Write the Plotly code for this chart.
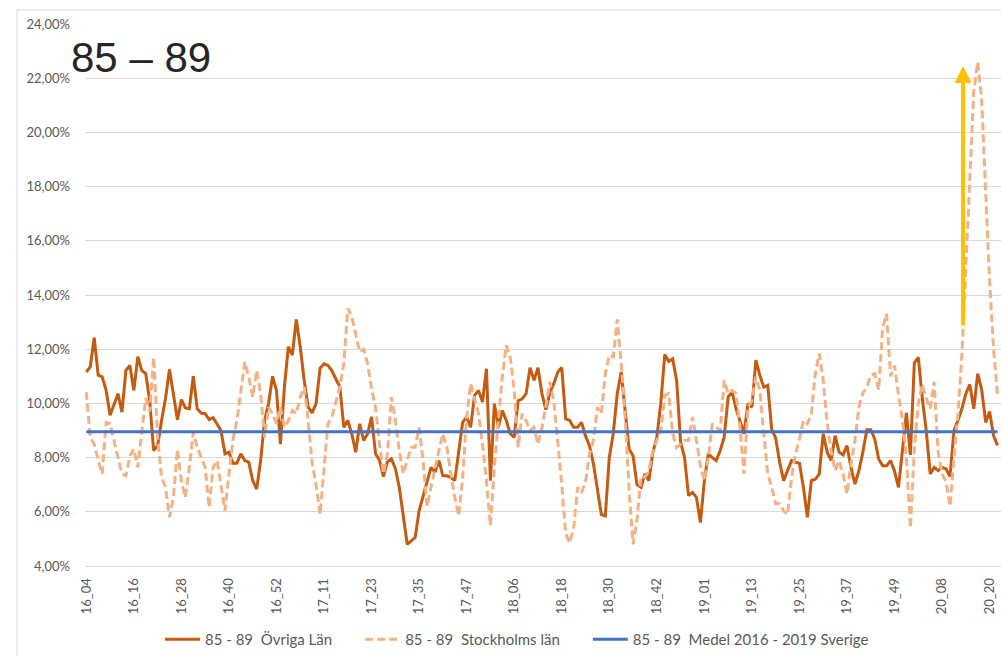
import plotly.graph_objects as go

# ---------------- data ----------------
TICK_LABELS = ["16_04", "16_16", "16_28", "16_40", "16_52", "17_11", "17_23", "17_35",
               "17_47", "18_06", "18_18", "18_30", "18_42", "19_01", "19_13", "19_25",
               "19_37", "19_49", "20_08", "20_20"]

OVRIGA = [
    11.16, 11.35, 12.43, 11.04, 10.98, 10.48, 9.56, 9.93, 10.36, 9.68,
    11.22, 11.40, 10.48, 11.72, 11.22, 11.10, 10.10, 8.26, 8.44, 9.37,
    10.20, 11.25, 10.36, 9.40, 10.14, 9.83, 9.80, 11.00, 9.80, 9.64,
    9.62, 9.40, 9.47, 9.25, 9.00, 8.14, 8.20, 7.79, 7.79, 8.14,
    7.89, 7.83, 7.15, 6.84, 7.89, 9.37, 9.99, 11.00, 10.48, 8.50,
    10.60, 12.09, 11.78, 13.10, 12.09, 10.85, 9.86, 9.65, 10.00, 11.30,
    11.46, 11.40, 11.20, 10.90, 10.60, 9.12, 9.37, 8.88, 8.20, 9.25,
    8.63, 8.88, 9.50, 8.14, 7.90, 7.30, 7.84, 7.95, 7.60, 6.90,
    5.90, 4.80, 4.93, 5.05, 6.04, 6.53, 7.10, 7.64, 7.46, 7.89,
    7.33, 7.33, 7.27, 7.15, 8.14, 9.30, 9.50, 9.12, 10.30, 10.48,
    10.05, 11.28, 7.15, 9.99, 9.12, 9.74, 9.37, 8.88, 8.75, 10.10,
    10.17, 10.36, 11.32, 10.85, 11.32, 10.36, 9.77, 10.40, 10.73, 11.16,
    11.32, 9.43, 9.37, 9.12, 9.12, 9.30, 8.80, 8.44, 7.77, 6.90,
    5.90, 5.85, 8.00, 8.88, 10.36, 11.16, 9.62, 8.32, 8.07, 7.00,
    6.90, 7.40, 7.15, 8.20, 8.75, 10.00, 11.80, 11.55, 11.65, 10.85,
    8.57, 8.00, 6.60, 6.72, 6.53, 5.60, 7.15, 8.14, 8.00, 7.89,
    8.26, 8.75, 10.23, 10.42, 9.80, 9.30, 8.88, 9.99, 9.86, 11.60,
    11.04, 10.60, 10.67, 9.03, 8.72, 7.83, 7.15, 7.52, 7.89, 7.83,
    7.79, 6.90, 5.80, 7.15, 7.20, 7.40, 8.88, 8.20, 7.89, 8.81,
    8.20, 8.10, 8.44, 7.64, 7.02, 7.52, 8.20, 9.03, 9.03, 8.69,
    7.95, 7.70, 7.70, 7.89, 7.50, 6.90, 8.30, 9.65, 8.10, 11.50,
    11.70, 10.20, 9.00, 7.40, 7.64, 7.52, 7.64, 7.58, 7.30, 9.00,
    9.37, 9.80, 10.36, 10.70, 9.80, 11.10, 10.50, 9.30, 9.70, 8.80,
    8.45,
]

STOCKHOLM = [
    10.42, 8.75, 8.50, 7.89, 7.40, 9.30, 9.25, 8.57, 8.00, 7.40,
    7.33, 8.07, 8.32, 7.64, 9.00, 10.20, 9.70, 11.70, 8.75, 7.27,
    6.90, 5.80, 6.55, 8.30, 7.15, 6.53, 7.64, 8.94, 8.38, 8.00,
    7.64, 6.16, 7.64, 7.89, 7.00, 6.04, 7.40, 8.63, 9.37, 10.36,
    11.53, 10.98, 10.23, 11.22, 10.36, 8.75, 9.86, 9.62, 9.25, 9.86,
    9.12, 9.37, 9.74, 9.62, 10.23, 10.60, 9.37, 7.80, 7.00, 5.90,
    7.64, 9.25, 9.50, 10.10, 10.60, 11.47, 13.50, 13.20, 12.52, 11.90,
    12.00, 11.47, 10.54, 9.86, 8.50, 7.40, 8.14, 10.23, 9.37, 8.26,
    7.40, 7.89, 8.38, 8.38, 9.12, 7.89, 6.20, 6.90, 7.64, 8.26,
    8.88, 8.38, 7.40, 6.53, 5.85, 7.27, 9.50, 10.73, 10.17, 9.62,
    8.50, 7.15, 5.48, 7.64, 9.37, 10.98, 12.15, 11.70, 10.48, 8.38,
    9.62, 9.37, 9.00, 9.12, 8.50, 9.10, 9.90, 10.80, 10.10, 8.63,
    7.02, 5.20, 4.85, 5.40, 6.90, 6.70, 7.10, 8.14, 8.63, 9.86,
    9.62, 11.10, 11.78, 11.72, 13.10, 11.50, 9.50, 6.80, 4.80, 5.70,
    7.30, 7.27, 7.52, 8.26, 8.60, 9.00, 10.30, 10.36, 8.88, 8.38,
    8.50, 8.63, 8.63, 9.50, 8.63, 7.70, 7.15, 8.00, 9.25, 9.12,
    9.00, 10.85, 10.36, 10.48, 10.36, 9.10, 7.40, 9.86, 10.10, 10.98,
    10.48, 8.88, 7.40, 6.90, 6.30, 6.30, 6.04, 5.90, 7.27, 8.14,
    8.69, 9.37, 9.25, 9.62, 11.10, 11.84, 10.85, 9.25, 8.26, 7.52,
    7.89, 7.40, 6.65, 7.77, 8.63, 9.86, 10.38, 10.60, 11.04, 11.10,
    10.50, 12.80, 13.30, 11.00, 11.40, 10.30, 9.40, 8.00, 5.40, 8.30,
    10.00, 10.70, 10.20, 9.80, 10.80, 8.20, 7.40, 7.10, 6.20, 8.00,
    9.60, 11.80, 15.00, 18.50, 21.50, 22.60, 21.20, 17.80, 14.50, 12.00,
    10.30,
]

MEDEL_2016_2019 = 8.95

# week categories: 53 weeks per year, starting at 16_04
START_YEAR, START_WEEK, WEEKS_PER_YEAR = 16, 4, 53
WEEKS = []
y, w = START_YEAR, START_WEEK
for _ in range(len(OVRIGA)):
    WEEKS.append(f"{y:02d}_{w:02d}")
    w += 1
    if w > WEEKS_PER_YEAR:
        w = 1
        y += 1

NB = "\u00a0"
SERIES_NAMES = ["85 - 89" + NB * 2 + "Övriga Län" + NB * 6,
                "85 - 89" + NB * 2 + "Stockholms län" + NB * 6,
                "85 - 89" + NB * 2 + "Medel 2016 - 2019 Sverige"]
TITLE = "85 – 89"

# ---------------- figure ----------------
FONT = "Lato, 'Liberation Sans', sans-serif"
GRID = "#D9D9D9"
TXT = "#595959"

fig = go.Figure()
fig.add_trace(go.Scatter(x=WEEKS, y=OVRIGA, mode="lines", name=SERIES_NAMES[0],
                         line=dict(color="#C55A11", width=3)))
fig.add_trace(go.Scatter(x=WEEKS, y=STOCKHOLM, mode="lines", name=SERIES_NAMES[1],
                         line=dict(color="#F4B183", width=3, dash="8px,4px")))
fig.add_trace(go.Scatter(x=WEEKS, y=[MEDEL_2016_2019] * len(WEEKS), mode="lines",
                         name=SERIES_NAMES[2], line=dict(color="#4472C4", width=3)))

# arrow (annotation)
ARROW_X = 221.3
ARROW_HEAD_Y = 22.45
ARROW_TAIL_Y = 12.82
fig.add_annotation(x=ARROW_X, y=ARROW_HEAD_Y, ax=ARROW_X, ay=ARROW_TAIL_Y,
                   xref="x", yref="y", axref="x", ayref="y", text="",
                   showarrow=True, arrowhead=2, arrowsize=0.85, arrowwidth=4,
                   arrowcolor="#FFC000", standoff=0)

fig.add_annotation(text=TITLE, xref="paper", yref="paper", x=-0.0175, y=0.938,
                   xanchor="left", yanchor="middle", showarrow=False,
                   font=dict(family="'Liberation Sans', Arial, sans-serif", size=42,
                             color="#262626"))

# outer chart border
fig.add_shape(type="rect", xref="paper", yref="paper", x0=-0.0742, y0=-0.2, x1=1.05,
              y1=1.0258, line=dict(color=GRID, width=1), fillcolor="rgba(0,0,0,0)",
              layer="below")

fig.update_layout(
    width=1001, height=656,
    margin=dict(l=85, r=0, t=24, b=90),
    paper_bgcolor="white", plot_bgcolor="white",
    separators=", ",
    font=dict(family=FONT, size=13, color=TXT),
    showlegend=True,
    legend=dict(orientation="h", x=0.4716, y=-0.1365, xanchor="center",
                yanchor="middle", font=dict(size=15, color=TXT),
                itemwidth=35, tracegroupgap=0),
)
fig.update_xaxes(type="category", range=[-0.33, 230.87], tickmode="array",
                 tickvals=TICK_LABELS, ticktext=TICK_LABELS, tickangle=-90,
                 showgrid=False, showline=True, linecolor=GRID, linewidth=1,
                 ticks="", ticklabelstandoff=6, tickfont=dict(size=13, color=TXT),
                 zeroline=False)
fig.update_yaxes(range=[4, 24], dtick=2, tick0=4, tickformat=".2f", ticksuffix="%",
                 showgrid=True, gridcolor=GRID, gridwidth=1, zeroline=False,
                 showline=False, ticks="", ticklabelstandoff=14,
                 tickfont=dict(size=13, color=TXT))

fig.write_html("out.html", config={"displayModeBar": False},
               post_script="document.body.style.margin='0';")
